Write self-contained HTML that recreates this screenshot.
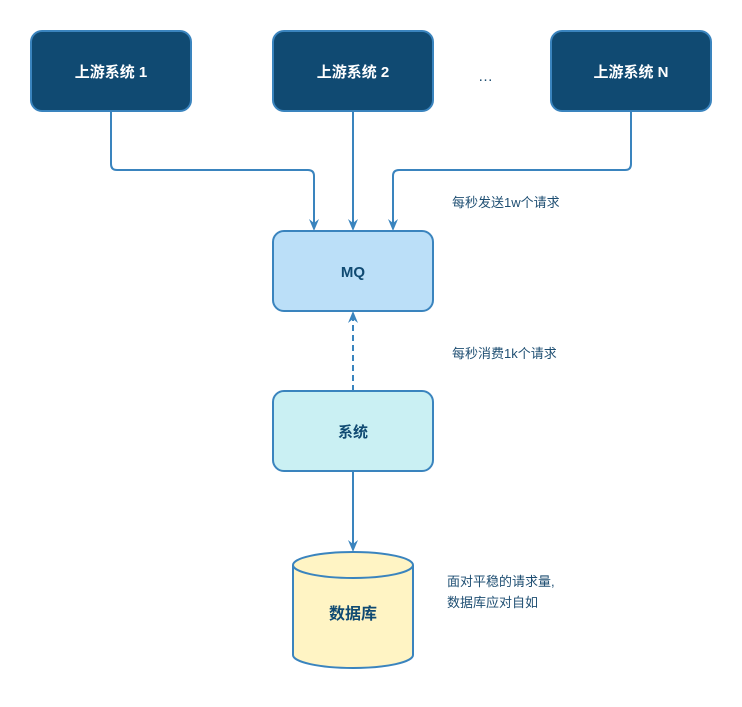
<!DOCTYPE html>
<html><head><meta charset="utf-8"><style>
body{margin:0;background:#fff;}
svg text{font-family:"Liberation Sans","Noto Sans CJK SC",sans-serif;}
</style></head><body>
<svg width="742" height="702" viewBox="0 0 742 702" xmlns="http://www.w3.org/2000/svg">
<defs><marker id="a" markerWidth="10" markerHeight="10" refX="5" refY="8" orient="auto-start-reverse" markerUnits="userSpaceOnUse" viewBox="0 0 10 10"><path d="M0,0 L5,9 L10,0 L5,3 Z" fill="#3a84be" transform="rotate(0)"/></marker></defs>
<g fill="none" stroke="#3a84be" stroke-width="2">
<path d="M111,111 V164 Q111,170 117,170 H308 Q314,170 314,176 V228"/>
<path d="M353,111 V228"/>
<path d="M631,111 V164 Q631,170 625,170 H399 Q393,170 393,176 V228"/>
<path d="M353,471 V549"/>
<path d="M353,391 V316" stroke-dasharray="6,4"/>
</g>
<g fill="#3a84be">
<path d="M309,219 L314,231 L319,219 L314,223Z"/>
<path d="M348,219 L353,231 L358,219 L353,223Z"/>
<path d="M388,219 L393,231 L398,219 L393,223Z"/>
<path d="M348,540 L353,552 L358,540 L353,544Z"/>
<path d="M348,323 L353,311 L358,323 L353,319Z"/>
</g>
<g stroke="#3a84be" stroke-width="2">
<rect x="31" y="31" width="160" height="80" rx="11" fill="#104a72"/>
<rect x="273" y="31" width="160" height="80" rx="11" fill="#104a72"/>
<rect x="551" y="31" width="160" height="80" rx="11" fill="#104a72"/>
<rect x="273" y="231" width="160" height="80" rx="11" fill="#bbdff8"/>
<rect x="273" y="391" width="160" height="80" rx="11" fill="#caf0f3"/>
<path d="M293,565 V655 A60,13 0 0 0 413,655 V565 A60,13 0 0 0 293,565 Z" fill="#fff4c4"/>
<path d="M293,565 A60,13 0 0 0 413,565" fill="none"/>
</g>
<g font-size="15" font-weight="bold" text-anchor="middle">
<text x="111" y="77" fill="#fff">上游系统 1</text>
<text x="353" y="77" fill="#fff">上游系统 2</text>
<text x="631" y="77" fill="#fff">上游系统 N</text>
<text x="353" y="277" fill="#104a72">MQ</text>
<text x="353" y="437" fill="#104a72">系统</text>
<text x="353" y="619" fill="#104a72" font-size="16">数据库</text>
</g>
<g font-size="13" fill="#1e4e72">
<text x="478" y="81" font-size="15">…</text>
<text x="452" y="207">每秒发送1w个请求</text>
<text x="452" y="358">每秒消费1k个请求</text>
<text x="447" y="586">面对平稳的请求量,</text>
<text x="447" y="607">数据库应对自如</text>
</g>
</svg>
</body></html>
